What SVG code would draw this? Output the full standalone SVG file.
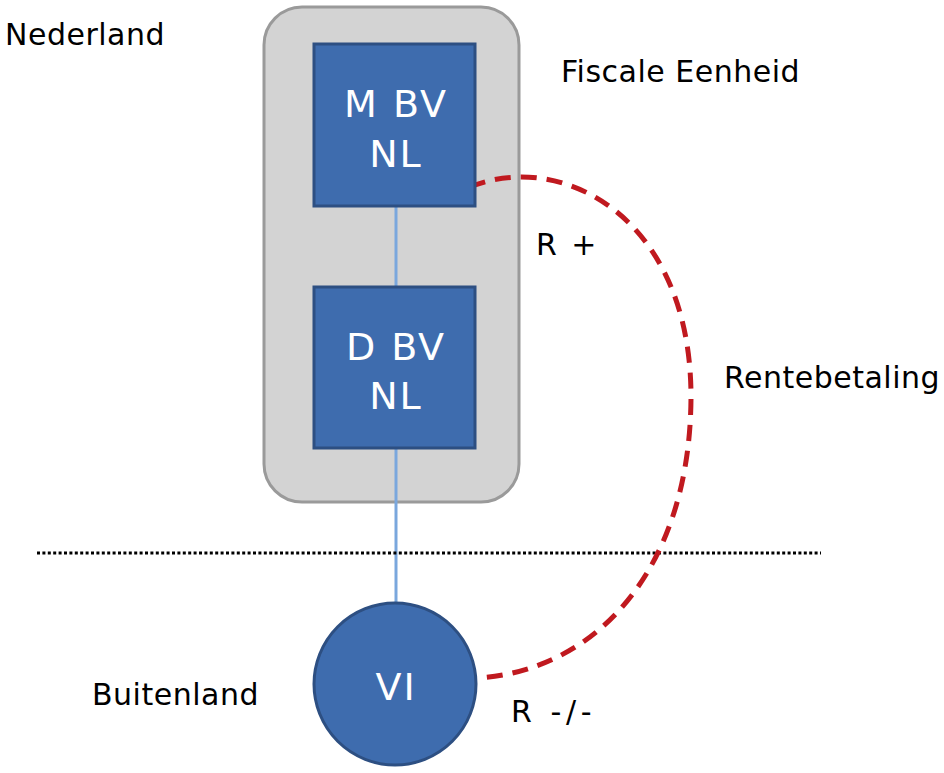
<svg xmlns="http://www.w3.org/2000/svg" width="944" height="773" viewBox="0 0 944 773">
<style>
.lbl{font-family:"DejaVu Sans","Liberation Sans",sans-serif;font-size:30px;letter-spacing:0.5px;fill:#000}
.nt{font-family:"DejaVu Sans","Liberation Sans",sans-serif;font-size:38px;letter-spacing:2px;fill:#fff;text-anchor:middle}
.node{fill:#3e6cae;stroke:#2d4f82;stroke-width:3}
.link{stroke:#7aa7dd;stroke-width:3;fill:none}
</style>
<rect width="944" height="773" fill="#fff"/>
<g id="fiscale-eenheid">
<rect x="264" y="7" width="255" height="495" rx="38" ry="38" fill="#d3d3d3" stroke="#9a9a9a" stroke-width="3"/>
</g>
<g id="connectors">
<line class="link" x1="396" y1="207" x2="396" y2="286"/>
<line class="link" x1="396" y1="449" x2="396" y2="603"/>
<line x1="37" y1="553" x2="821" y2="553" stroke="#000" stroke-width="3" stroke-dasharray="3,2.4"/>
<path d="M470,187 C560,150 690,215 691,395 C691,565 600,670 478,678" fill="none" stroke="#c0191f" stroke-width="5" stroke-dasharray="16,10"/>
</g>
<g id="m-bv-nl">
<rect class="node" x="314" y="44" width="161" height="162"/>
<text class="nt" x="396" y="117">M BV</text>
<text class="nt" x="396" y="167">NL</text>
</g>
<g id="d-bv-nl">
<rect class="node" x="314" y="287" width="161" height="161"/>
<text class="nt" x="396" y="360">D BV</text>
<text class="nt" x="396" y="409">NL</text>
</g>
<g id="vi">
<circle class="node" cx="395" cy="684" r="81"/>
<text class="nt" x="396" y="700">VI</text>
</g>
<g id="labels">
<text class="lbl" x="5" y="45">Nederland</text>
<text class="lbl" x="561" y="82">Fiscale Eenheid</text>
<text class="lbl" x="536" y="255" textLength="61" lengthAdjust="spacing">R +</text>
<text class="lbl" x="724" y="388">Rentebetaling</text>
<text class="lbl" x="92" y="705">Buitenland</text>
<text class="lbl" x="511" y="722" textLength="81" lengthAdjust="spacing">R -/-</text>
</g>
</svg>
